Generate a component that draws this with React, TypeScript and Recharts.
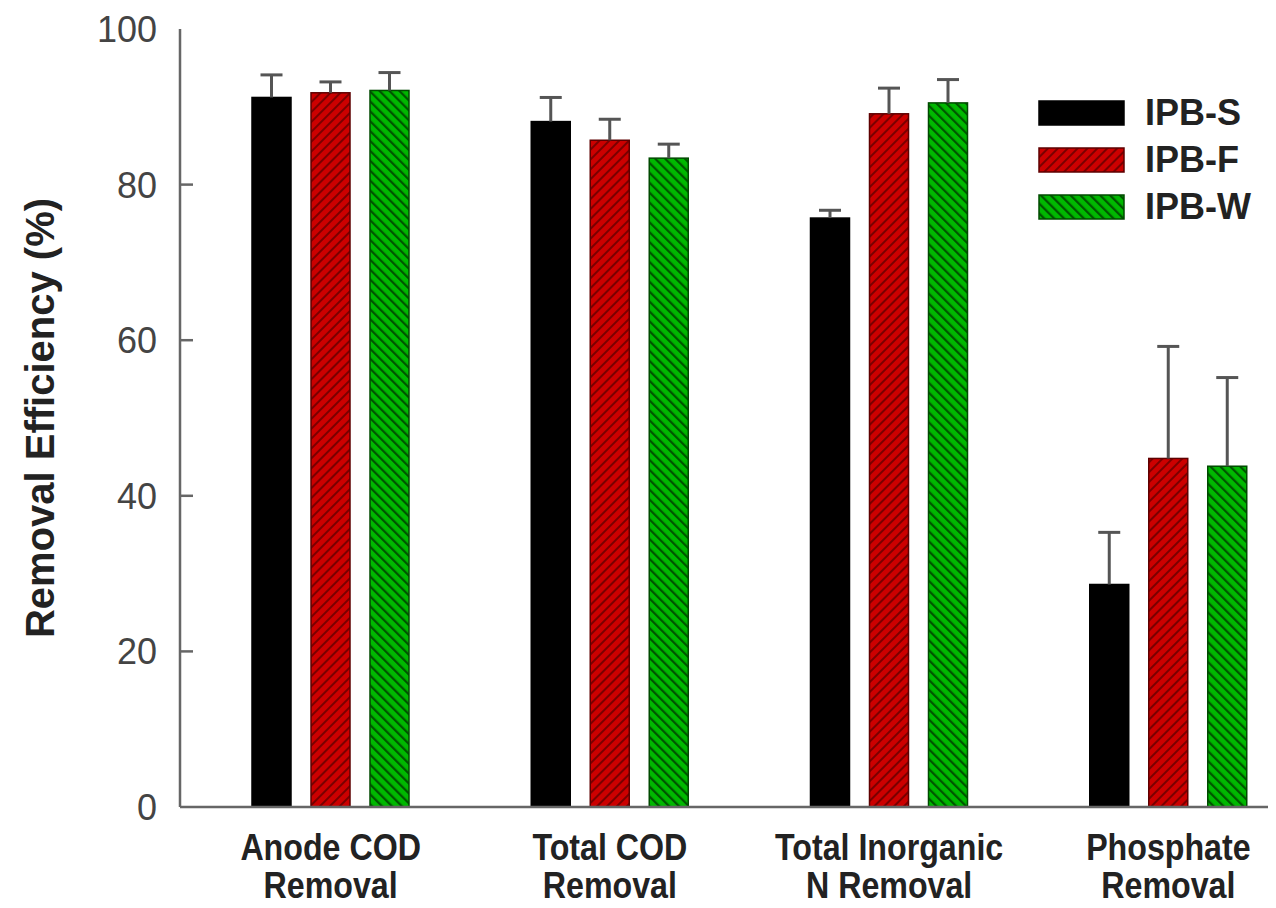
import React from 'react';
import { BarChart, Bar, XAxis, YAxis } from 'recharts';

const categories = [
  'Anode COD\nRemoval',
  'Total COD\nRemoval',
  'Total Inorganic\nN Removal',
  'Phosphate\nRemoval',
];
const ipbS = [91.2, 88.1, 75.7, 28.6];
const ipbF = [91.8, 85.7, 89.1, 44.8];
const ipbW = [92.1, 83.4, 90.5, 43.8];
const ipbSErr = [2.9, 3.1, 1.0, 6.7];
const ipbFErr = [1.4, 2.7, 3.3, 14.4];
const ipbWErr = [2.3, 1.8, 3.0, 11.4];
const yTicks = [0, 20, 40, 60, 80, 100];
const seriesNames = ['IPB-S', 'IPB-F', 'IPB-W'];

const data = categories.map((name, i) => ({
  name,
  s: ipbS[i],
  f: ipbF[i],
  w: ipbW[i],
  sErr: ipbSErr[i],
  fErr: ipbFErr[i],
  wErr: ipbWErr[i],
}));

const AXIS = '#666';
const FILLS = ['#000000', 'url(#hatchRed)', 'url(#hatchGreen)'];
const STROKES = ['#000000', '#5e0000', '#004a00'];

// bar + upper error whisker, whisker length taken from the bar's own scale
const makeShape = (valueKey: string, errKey: string, fill: string, stroke: string) => (props: any) => {
  const { x, y, width, height, payload } = props;
  const v = payload[valueKey];
  const e = payload[errKey];
  const ppu = v ? height / v : 0;
  const top = y - e * ppu;
  const cx = x + width / 2;
  return (
    <g>
      <rect x={x} y={y} width={width} height={height} fill={fill} stroke={stroke} strokeWidth={1.5} />
      <line x1={cx} y1={y} x2={cx} y2={top} stroke="#555" strokeWidth={3} />
      <line x1={cx - 11} y1={top} x2={cx + 11} y2={top} stroke="#555" strokeWidth={3} />
    </g>
  );
};

const YTick = (props: any) => {
  const { x, y, payload } = props;
  const v = payload.value;
  return (
    <g>
      <text x={x} y={y} dy={13} textAnchor="end" fontSize={36} fill="#444">
        {v}
      </text>
      {v > 0 && v < 100 && (
        <line x1={x + 23} y1={y} x2={x + 36} y2={y} stroke={AXIS} strokeWidth={2.5} />
      )}
    </g>
  );
};

// condensed bold category labels, two lines each
const XTick = (props: any) => {
  const { x, y, payload } = props;
  const lines = String(payload.value).split('\n');
  return (
    <g transform={`translate(${x},${y}) scale(0.87,1)`}>
      {lines.map((l, i) => (
        <text key={i} x={0} y={53 + i * 38} textAnchor="middle" fontSize={37} fontWeight="bold" fill="#222">
          {l}
        </text>
      ))}
    </g>
  );
};

const Patterns = () => (
  <defs>
    <pattern id="hatchRed" patternUnits="userSpaceOnUse" width="7" height="7" patternTransform="rotate(45)">
      <rect width="7" height="7" fill="#cc0000" />
      <line x1="1" y1="0" x2="1" y2="7" stroke="#7a0000" strokeWidth="2" />
    </pattern>
    <pattern id="hatchGreen" patternUnits="userSpaceOnUse" width="7" height="7" patternTransform="rotate(-45)">
      <rect width="7" height="7" fill="#00b800" />
      <line x1="1" y1="0" x2="1" y2="7" stroke="#005500" strokeWidth="2.5" />
    </pattern>
  </defs>
);

const LegendBox = () => (
  <div style={{ position: 'absolute', left: 1030, top: 81 }}>
    {seriesNames.map((n, i) => (
      <div key={n} style={{ display: 'flex', alignItems: 'center', height: 47 }}>
        <svg width={87} height={26} style={{ display: 'block' }}>
          <rect x={1} y={1} width={85} height={24} fill={FILLS[i]} stroke={STROKES[i]} strokeWidth={1.5} />
        </svg>
        <span style={{ marginLeft: 20, fontSize: 36, fontWeight: 'bold', color: '#222', lineHeight: '36px' }}>
          {n}
        </span>
      </div>
    ))}
  </div>
);

export default function App() {
  return (
    <div
      style={{
        position: 'relative',
        width: 1268,
        height: 900,
        overflow: 'hidden',
        fontFamily: "'Liberation Sans', Arial, sans-serif",
        background: '#fff',
      }}
    >
      <BarChart
        width={1300}
        height={900}
        data={data}
        margin={{ top: 21, right: 0, bottom: 0, left: 0 }}
        barSize={39}
        barGap={20}
      >
        <Patterns />
        <XAxis
          dataKey="name"
          height={101}
          padding={{ left: 11, right: 0 }}
          tick={<XTick />}
          tickLine={false}
          tickSize={0}
          tickMargin={0}
          interval={0}
          axisLine={{ stroke: AXIS, strokeWidth: 2.5 }}
        />
        <XAxis
          xAxisId="top"
          dataKey="name"
          orientation="top"
          height={0}
          tick={false}
          tickLine={false}
          axisLine={{ stroke: AXIS, strokeWidth: 2.5 }}
        />
        <YAxis
          width={172}
          domain={[0, 100]}
          ticks={yTicks}
          interval={0}
          tick={<YTick />}
          tickLine={false}
          tickSize={0}
          tickMargin={23}
          axisLine={{ stroke: AXIS, strokeWidth: 2.5 }}
          label={{
            value: 'Removal Efficiency (%)',
            angle: -90,
            position: 'insideLeft',
            offset: 32,
            fontSize: 40,
            fontWeight: 'bold',
            fill: '#222',
            style: { textAnchor: 'middle' },
          }}
        />
        <Bar dataKey="s" name={seriesNames[0]} isAnimationActive={false} shape={makeShape('s', 'sErr', FILLS[0], STROKES[0])} />
        <Bar dataKey="f" name={seriesNames[1]} isAnimationActive={false} shape={makeShape('f', 'fErr', FILLS[1], STROKES[1])} />
        <Bar dataKey="w" name={seriesNames[2]} isAnimationActive={false} shape={makeShape('w', 'wErr', FILLS[2], STROKES[2])} />
      </BarChart>
      <LegendBox />
    </div>
  );
}
